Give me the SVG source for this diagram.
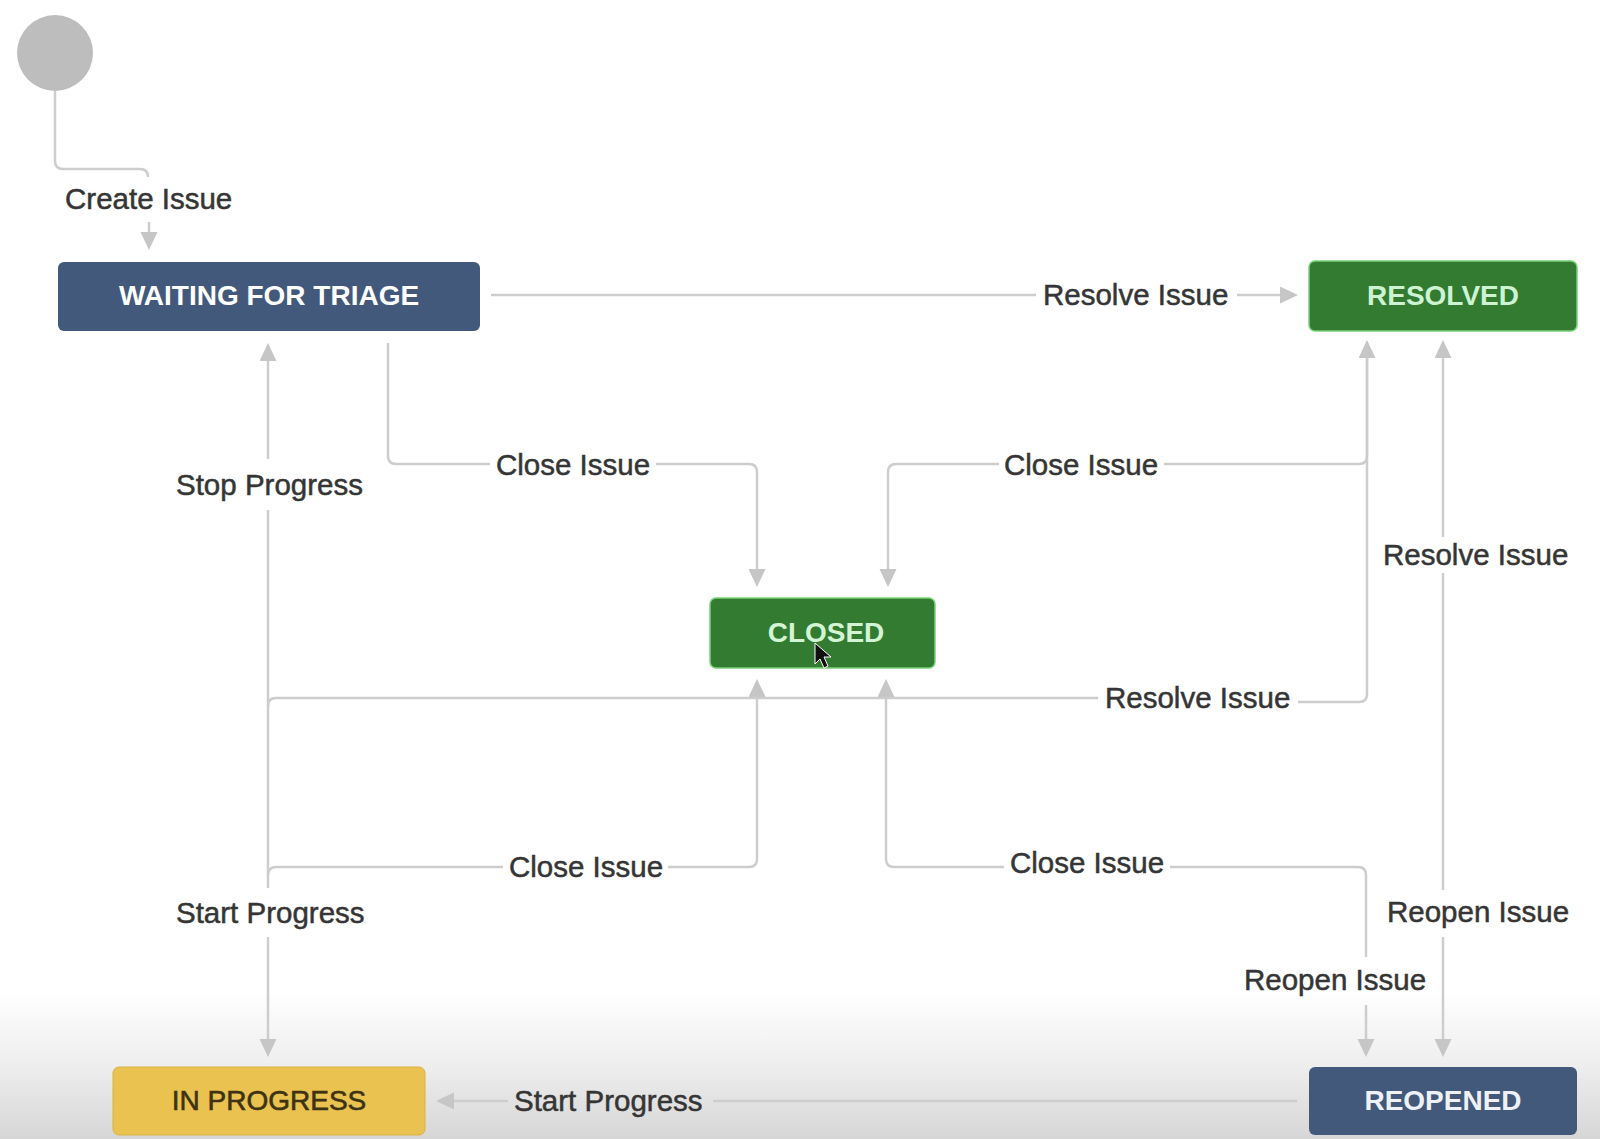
<svg xmlns="http://www.w3.org/2000/svg" width="1600" height="1139" viewBox="0 0 1600 1139">
<defs>
<linearGradient id="bottomShade" x1="0" y1="0" x2="0" y2="1">
<stop offset="0" stop-color="#ffffff"/>
<stop offset="0.5" stop-color="#eeeeee"/>
<stop offset="1" stop-color="#d6d6d6"/>
</linearGradient>
<marker id="arr" markerUnits="userSpaceOnUse" markerWidth="20" markerHeight="18" refX="0" refY="8.5" orient="auto-start-reverse">
<path d="M0,0 L18,8.5 L0,17 z" fill="#c6c6c6"/>
</marker>
<style>
.ln{fill:none;stroke:#cdcdcd;stroke-width:2.5}
.lbl{font-family:"Liberation Sans",Arial,sans-serif;font-size:29.5px;fill:#353535;stroke:#353535;stroke-width:0.5}
.nt{font-family:"Liberation Sans",Arial,sans-serif;font-size:28px;font-weight:bold;text-anchor:middle}
.blue{fill:#42597b}
.green{fill:#327b30;stroke:#79d379;stroke-width:1.5}
.yellow{fill:#e9c24f;stroke:#d9b243;stroke-width:1}
</style>
</defs>
<rect x="0" y="0" width="1600" height="1139" fill="#ffffff"/>
<rect x="0" y="990" width="1600" height="149" fill="url(#bottomShade)"/>

<g id="connectors">
<!-- Create Issue -->
<path class="ln" d="M55,91 V161 Q55,169 63,169 H140 Q148,169 148,177"/>
<path class="ln" d="M149,222 V232" marker-end="url(#arr)"/>
<text class="lbl" x="65" y="209">Create Issue</text>

<!-- Resolve Issue: WFT -> RESOLVED -->
<path class="ln" d="M491,295 H1036"/>
<path class="ln" d="M1237,295 H1280" marker-end="url(#arr)"/>
<text class="lbl" x="1043" y="305">Resolve Issue</text>

<!-- Close Issue: WFT -> CLOSED -->
<path class="ln" d="M388,343 V456 Q388,464 396,464 H490"/>
<path class="ln" d="M656,464 H749 Q757,464 757,472 V569" marker-end="url(#arr)"/>
<text class="lbl" x="496" y="475">Close Issue</text>

<!-- Close Issue: RESOLVED -> CLOSED -->
<path class="ln" d="M1367,350 V456 Q1367,464 1359,464 H1164"/>
<path class="ln" d="M999,464 H896 Q888,464 888,472 V569" marker-end="url(#arr)"/>
<text class="lbl" x="1004" y="475">Close Issue</text>

<!-- Resolve Issue: IN PROGRESS -> RESOLVED -->
<path class="ln" d="M268,706 Q268,698 276,698 H1098"/>
<path class="ln" d="M1298,702 H1359 Q1367,702 1367,694 V358" marker-end="url(#arr)"/>
<text class="lbl" x="1105" y="708">Resolve Issue</text>

<!-- Stop Progress / Start Progress: WFT <-> IN PROGRESS -->
<path class="ln" d="M268,459 V361" marker-end="url(#arr)"/>
<path class="ln" d="M268,510 V888"/>
<path class="ln" d="M268,937 V1039" marker-end="url(#arr)"/>
<text class="lbl" x="176" y="495">Stop Progress</text>
<text class="lbl" x="176" y="923">Start Progress</text>

<!-- Close Issue: IN PROGRESS -> CLOSED -->
<path class="ln" d="M268,875 Q268,867 276,867 H503"/>
<path class="ln" d="M668,867 H749 Q757,867 757,859 V697" marker-end="url(#arr)"/>
<text class="lbl" x="509" y="877">Close Issue</text>

<!-- Close Issue: REOPENED -> CLOSED / Reopen Issue: CLOSED -> REOPENED -->
<path class="ln" d="M886,697 V859 Q886,867 894,867 H1004" marker-start="url(#arr)"/>
<path class="ln" d="M1170,867 H1358 Q1366,867 1366,875 V957"/>
<path class="ln" d="M1366,1005 V1039" marker-end="url(#arr)"/>
<text class="lbl" x="1010" y="873">Close Issue</text>
<text class="lbl" x="1244" y="990">Reopen Issue</text>

<!-- Resolve Issue / Reopen Issue: REOPENED <-> RESOLVED -->
<path class="ln" d="M1443,537 V358" marker-end="url(#arr)"/>
<path class="ln" d="M1443,573 V890"/>
<path class="ln" d="M1443,937 V1039" marker-end="url(#arr)"/>
<text class="lbl" x="1383" y="565">Resolve Issue</text>
<text class="lbl" x="1387" y="922">Reopen Issue</text>

<!-- Start Progress: REOPENED -> IN PROGRESS -->
<path class="ln" d="M1297,1101 H713"/>
<path class="ln" d="M508,1101 H454" marker-end="url(#arr)"/>
<text class="lbl" x="514" y="1111">Start Progress</text>
</g>

<g id="start">
<circle cx="55" cy="53" r="38" fill="#bdbdbd"/>
</g>

<g id="waiting-for-triage">
<rect class="blue" x="58" y="262" width="422" height="69" rx="6"/>
<text class="nt" x="269" y="305" fill="#ffffff">WAITING FOR TRIAGE</text>
</g>

<g id="resolved">
<rect class="green" x="1309" y="261" width="268" height="70" rx="6"/>
<text class="nt" x="1443" y="305" fill="#cdf3d2">RESOLVED</text>
</g>

<g id="closed">
<rect class="green" x="710" y="598" width="225" height="70" rx="6"/>
<text class="nt" x="826" y="642" fill="#d3f5d5">CLOSED</text>
<path d="M815,643 L815,664 L820,659 L824,668 L828,666 L824,657 L831,657 Z" fill="#111111" stroke="#ffffff" stroke-width="1"/>
</g>

<g id="in-progress">
<rect class="yellow" x="113" y="1067" width="312" height="68" rx="6"/>
<text class="nt" x="269" y="1110" fill="#3d3214" stroke="#3d3214" stroke-width="0.6" style="font-weight:normal">IN PROGRESS</text>
</g>

<g id="reopened">
<rect class="blue" x="1309" y="1067" width="268" height="68" rx="6"/>
<text class="nt" x="1443" y="1110" fill="#eef2f7">REOPENED</text>
</g>
</svg>
